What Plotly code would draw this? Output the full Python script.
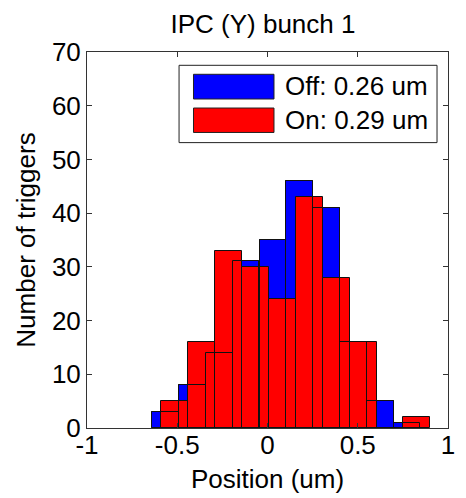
import plotly.graph_objects as go

# Histogram bin centers (um) and counts
off_centers = [-0.565, -0.416, -0.267, -0.119, 0.030, 0.178, 0.327, 0.476, 0.624, 0.773]
off_counts = [3, 8, 14, 31, 35, 46, 41, 16, 5, 1]
on_centers = [-0.515, -0.366, -0.217, -0.067, 0.082, 0.231, 0.380, 0.530, 0.679, 0.828]
on_counts = [5, 16, 33, 30, 24, 43, 28, 16, 0, 2]
off_width = 0.1486
on_width = 0.1493

series_names = ["Off: 0.26 um", "On: 0.29 um"]
series_colors = ["#0000FF", "#FF0000"]
title_text = "IPC (Y) bunch 1"
x_title = "Position (um)"
y_title = "Number of triggers"
x_tickvals = [-1, -0.5, 0, 0.5, 1]
x_ticktext = ["-1", "-0.5", "0", "0.5", "1"]
y_tickvals = [0, 10, 20, 30, 40, 50, 60, 70]

FONT = "Liberation Sans, Arial, Helvetica, sans-serif"
FS = 26
EDGE = "#111111"
# the page body adds an 8px margin; size the figure so it fills the 466x498 window
W, H = 458, 490

fig = go.Figure()
fig.add_trace(go.Bar(x=off_centers, y=off_counts, width=off_width,
                     marker=dict(color=series_colors[0], line=dict(color=EDGE, width=1)),
                     name=series_names[0], showlegend=False))
fig.add_trace(go.Bar(x=on_centers, y=on_counts, width=on_width,
                     marker=dict(color=series_colors[1], line=dict(color=EDGE, width=1)),
                     name=series_names[1], showlegend=False))
# outlines of the first histogram drawn on top (as MATLAB renders them)
fig.add_trace(go.Bar(x=off_centers, y=off_counts, width=off_width,
                     marker=dict(color="rgba(0,0,0,0)", line=dict(color=EDGE, width=1)),
                     showlegend=False, hoverinfo="skip"))

# custom legend (large swatches like MATLAB)
shapes = [dict(type="rect", xref="paper", yref="paper", x0=0.255, x1=0.9696, y0=0.759, y1=0.9646,
               line=dict(color="#222222", width=1), fillcolor="white", layer="above")]
annotations = []
rows = [(0.9407, 0.875, 0.9088), (0.851, 0.786, 0.8184)]
for (y1, y0, yc), name, col in zip(rows, series_names, series_colors):
    shapes.append(dict(type="rect", xref="paper", yref="paper", x0=0.295, x1=0.518, y0=y0, y1=y1,
                       line=dict(color="#222222", width=1), fillcolor=col, layer="above"))
    annotations.append(dict(text=name, xref="paper", yref="paper", x=0.5436, y=yc,
                            xanchor="left", yanchor="middle", showarrow=False,
                            font=dict(family=FONT, size=FS, color="black")))

fig.update_layout(
    width=W, height=H,
    margin=dict(l=79, r=18, t=44, b=70, autoexpand=False),
    paper_bgcolor="white", plot_bgcolor="white",
    barmode="overlay", bargap=0,
    font=dict(family=FONT, size=FS, color="black"),
    title=dict(text=title_text, x=255 / W, xanchor="center", y=1 - 16 / H, yanchor="middle",
               yref="container", font=dict(family=FONT, size=FS, color="black")),
    shapes=shapes, annotations=annotations,
)
fig.update_xaxes(range=[-1, 1], tickvals=x_tickvals, ticktext=x_ticktext, automargin=False,
                 ticks="inside", ticklen=5, tickcolor="#333333", mirror="ticks",
                 ticklabelstandoff=-6,
                 showline=True, linecolor="#333333", linewidth=1, showgrid=False, zeroline=False,
                 title=dict(text=x_title, standoff=10, font=dict(size=FS)), tickfont=dict(size=FS))
fig.update_yaxes(range=[0, 70], tickvals=y_tickvals, automargin=False,
                 ticks="inside", ticklen=5, tickcolor="#333333", mirror="ticks",
                 showline=True, linecolor="#333333", linewidth=1, showgrid=False, zeroline=False,
                 title=dict(text=y_title, standoff=8, font=dict(size=FS)), tickfont=dict(size=FS))

fig.write_html("out.html")
